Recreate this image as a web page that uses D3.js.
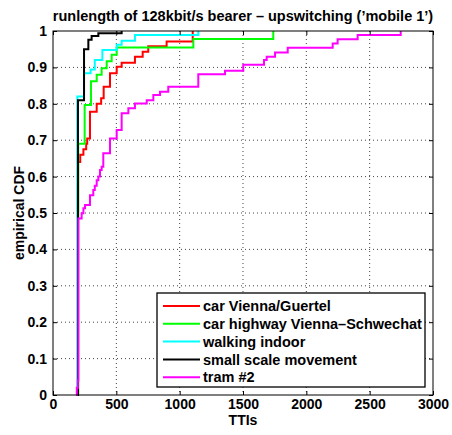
<!DOCTYPE html>
<html>
<head>
<meta charset="utf-8">
<script src="https://cdn.jsdelivr.net/npm/d3@7"></script>
<style>
  body { margin: 0; background: #fff; }
  text { font-family: "Liberation Sans", Arial, Helvetica, sans-serif; font-weight: bold; }
</style>
</head>
<body>
<div id="chart"></div>
<script>
// ECDF steps: [TTIs, cumulative fraction after the step]
const carGuertel = [[195,0],[198,0.64],[215,0.66],[240,0.675],[262,0.69],[270,0.705],[292,0.778],[345,0.80],[380,0.815],[400,0.847],[450,0.884],[503,0.902],[542,0.913],[647,0.929],[708,0.943],[752,0.958],[897,0.971],[1103,1]];
const carHighway = [[195,0],[199,0.69],[250,0.797],[300,0.862],[345,0.88],[384,0.898],[424,0.917],[463,0.935],[503,0.955],[1108,0.978],[1739,1]];
const walkingIndoor = [[190,0],[192,0.82],[245,0.884],[297,0.894],[330,0.92],[390,0.948],[503,0.962],[542,0.973],[647,0.989],[1147,1]];
const smallScale = [[195,0],[197,0.81],[245,0.95],[279,0.976],[305,0.986],[358,0.994],[542,1]];
const tram2 = [[182,0],[188,0.02],[196,0.04],[200,0.485],[226,0.499],[240,0.513],[253,0.522],[292,0.549],[318,0.563],[330,0.575],[345,0.59],[358,0.60],[371,0.618],[384,0.627],[397,0.664],[450,0.705],[503,0.728],[542,0.774],[595,0.788],[647,0.801],[740,0.81],[792,0.824],[845,0.833],[910,0.847],[1147,0.881],[1358,0.891],[1502,0.907],[1666,0.92],[1687,0.929],[1753,0.941],[1853,0.954],[2208,0.966],[2247,0.977],[2405,0.989],[2745,1]];

const seriesNames = ["car Vienna/Guertel", "car highway Vienna\u2013Schwechat", "walking indoor", "small scale movement", "tram #2"];
const seriesData = [carGuertel, carHighway, walkingIndoor, smallScale, tram2];
const seriesColors = ["#ff0000", "#00ff00", "#00ffff", "#000000", "#ff00ff"];

const xTicks = [0, 500, 1000, 1500, 2000, 2500, 3000];
const yTicks = [0, 0.1, 0.2, 0.3, 0.4, 0.5, 0.6, 0.7, 0.8, 0.9, 1];

const titleText = "runlength of 128kbit/s bearer \u2013 upswitching (\u2019mobile 1\u2019)";

// Set the dimensions and margins of the graph
const margin = { top: 31, right: 19, bottom: 40, left: 53 };
const width = 452 - margin.left - margin.right;
const height = 435 - margin.top - margin.bottom;

const svg = d3.select("#chart")
  .append("svg")
  .attr("width", width + margin.left + margin.right)
  .attr("height", height + margin.top + margin.bottom)
  .append("g")
  .attr("transform", "translate(" + margin.left + "," + margin.top + ")");

const x = d3.scaleLinear().domain([0, 3000]).range([0, width]);
const y = d3.scaleLinear().domain([0, 1]).range([height, 0]);

// dotted grid
svg.append("g").selectAll("line")
  .data(xTicks.slice(1, -1))
  .enter().append("line")
  .attr("x1", d => x(d)).attr("x2", d => x(d))
  .attr("y1", 0).attr("y2", height)
  .attr("stroke", "#444").attr("stroke-width", 1)
  .attr("stroke-dasharray", "1,3");
svg.append("g").selectAll("line")
  .data(yTicks.slice(1, -1))
  .enter().append("line")
  .attr("y1", d => y(d)).attr("y2", d => y(d))
  .attr("x1", 0).attr("x2", width)
  .attr("stroke", "#444").attr("stroke-width", 1)
  .attr("stroke-dasharray", "1,3");

// the curves
const line = d3.line()
  .x(d => x(d[0]))
  .y(d => y(d[1]))
  .curve(d3.curveStepAfter);

svg.append("g").selectAll("path")
  .data(seriesData)
  .enter().append("path")
  .attr("d", line)
  .attr("fill", "none")
  .attr("stroke", (d, i) => seriesColors[i])
  .attr("stroke-width", 2);

// axes, ticks point inward on all four sides
svg.append("g")
  .attr("transform", "translate(0," + height + ")")
  .call(d3.axisBottom(x).tickValues(xTicks).tickSize(-4).tickSizeOuter(0).tickPadding(4)
    .tickFormat(d3.format("d")));
svg.append("g")
  .call(d3.axisLeft(y).tickValues(yTicks).tickSize(-4).tickSizeOuter(0).tickPadding(6)
    .tickFormat(d => d === 0 || d === 1 ? String(d) : d3.format(".1f")(d)));
svg.append("g")
  .call(d3.axisTop(x).tickValues(xTicks).tickSize(-4).tickSizeOuter(0).tickFormat(""));
svg.append("g")
  .attr("transform", "translate(" + width + ",0)")
  .call(d3.axisRight(y).tickValues(yTicks).tickSize(-4).tickSizeOuter(0).tickFormat(""));

svg.selectAll(".tick text").attr("font-size", 14).attr("fill", "#000")
  .style("font-family", "'Liberation Sans', Arial, sans-serif").style("font-weight", "bold");
svg.selectAll(".domain").attr("stroke", "none");

svg.append("rect")
  .attr("width", width).attr("height", height)
  .attr("fill", "none").attr("stroke", "#000").attr("stroke-width", 1);

// title and axis labels
svg.append("text")
  .attr("x", width / 2)
  .attr("y", -10)
  .attr("text-anchor", "middle")
  .style("font-size", "14.5px")
  .text(titleText);

svg.append("text")
  .attr("x", width / 2)
  .attr("y", height + 30)
  .attr("text-anchor", "middle")
  .style("font-size", "14px")
  .text("TTIs");

svg.append("text")
  .attr("transform", "translate(" + (-29) + "," + (height / 2) + ") rotate(-90)")
  .attr("text-anchor", "middle")
  .style("font-size", "14px")
  .text("empirical CDF");

// legend
const legendW = 268, legendH = 94, rowH = 17.8;
const legend = svg.append("g")
  .attr("transform", "translate(" + (width - 8 - legendW) + "," + (height - 8 - legendH) + ")");

legend.append("rect")
  .attr("width", legendW).attr("height", legendH)
  .attr("fill", "#fff").attr("stroke", "#000").attr("stroke-width", 1.3);

legend.selectAll("line")
  .data(seriesNames)
  .enter().append("line")
  .attr("x1", 6).attr("x2", 43)
  .attr("y1", (d, i) => 13 + i * rowH).attr("y2", (d, i) => 13 + i * rowH)
  .attr("stroke", (d, i) => seriesColors[i])
  .attr("stroke-width", 2);

legend.selectAll("text")
  .data(seriesNames)
  .enter().append("text")
  .attr("x", 46)
  .attr("y", (d, i) => 13 + i * rowH)
  .attr("dy", "0.36em")
  .style("font-size", "14.5px")
  .text(d => d);
</script>
</body>
</html>
